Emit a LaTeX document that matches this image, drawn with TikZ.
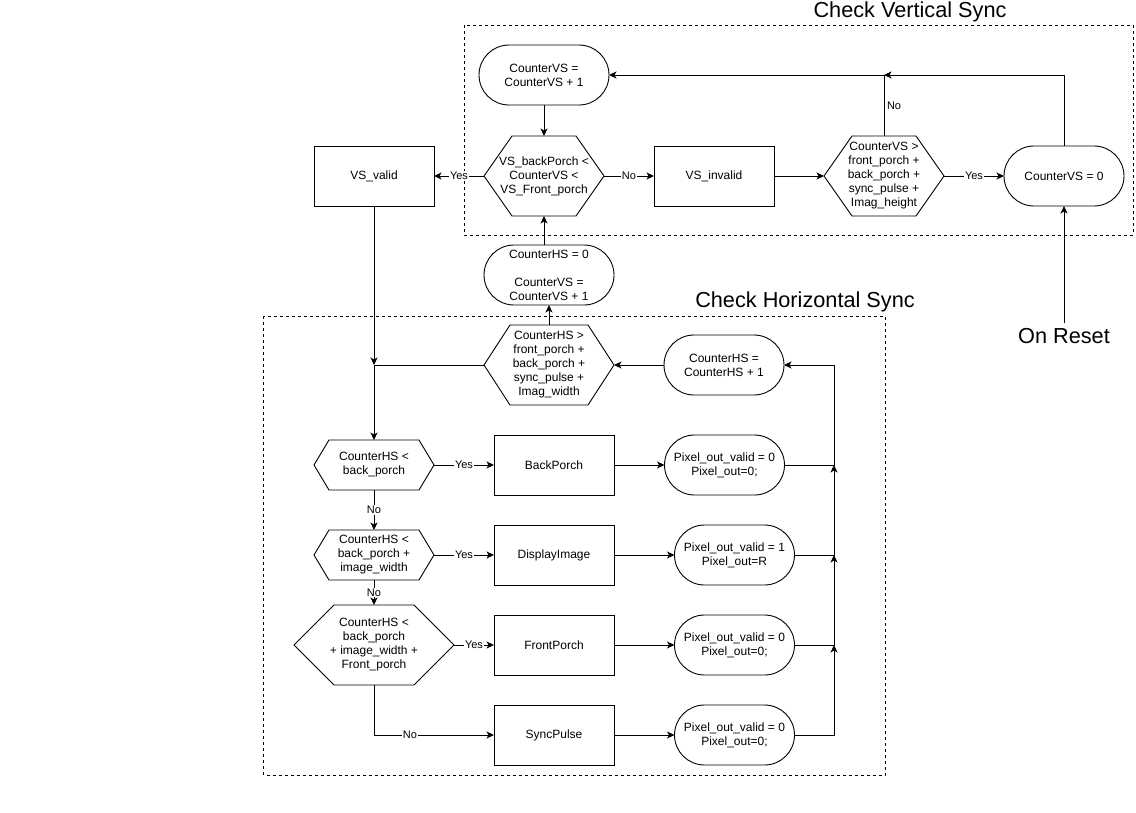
\documentclass[tikz,border=0pt]{standalone}
\usepackage{fontspec}
\setmainfont{Liberation Sans}
\usetikzlibrary{arrows.meta, positioning}
\tikzset{%
	every node/.style={
		font=\fontsize{12}{14}\selectfont,
		align=center,
		inner sep=0pt,
		outer sep=0pt
	},
	term/.style={
		draw,
		rounded corners=30pt,
		minimum width=120pt,
		minimum height=60pt
	},
	stepbox/.style={
		draw,
		minimum width=120pt,
		minimum height=60pt
	},
	cond/.style={
		minimum width=120pt,
		minimum height=80pt
	},
	group/.style={
		line width=0.8pt,
		dash pattern=on 3pt off 3pt
	},
	title/.style={
		font=\fontsize{21.7}{26}\selectfont,
		anchor=base
	},
	lbl/.style={
		font=\fontsize{11}{13}\selectfont,
		fill=white,
		inner sep=1pt
	},
	flow/.style={
		-{Stealth[length=7.5pt, width=7pt, inset=2pt]}
	},
}
% hexagon drawn round a named node: #1 node, #2 inset of the points
\newcommand{\hexa}[2]{%
	\draw ([xshift=#2]#1.north west) -- ([xshift=-#2]#1.north east) -- (#1.east)
		-- ([xshift=-#2]#1.south east) -- ([xshift=#2]#1.south west) -- (#1.west) -- cycle;}

\begin{document}
\begin{tikzpicture}[x=1pt, y=-1pt, line width=0.9pt]
	
	\path[fill=white] (0,0) rectangle (1136,812);
	
	% Vertical sync
	\draw[group] (464,25) rectangle (1133,235);
	\node[title] (vstitle) at (910,17.3) {Check Vertical Sync};
	
	\node[term, minimum width=130pt] (vsinc) at (544,75) {CounterVS =\\CounterVS + 1};
	\node[cond] (vscheck) at (544,176) {VS\_backPorch <\\CounterVS <\\VS\_Front\_porch};
	\hexa{vscheck}{28pt}
	\node[stepbox] (vsvalid) at (374,176) {VS\_valid};
	\node[stepbox] (vsinvalid) at (714,176) {VS\_invalid};
	\node[cond] (vsend) at (884,176) {CounterVS >\\front\_porch +\\back\_porch +\\sync\_pulse +\\Imag\_height};
	\hexa{vsend}{28pt}
	\node[term] (vsreset) at (1064,176) {CounterVS = 0};
	\node[title, inner ysep=5pt] (reset) at (1064,343) {On Reset};
	
	\draw[flow] (vsinc.south) -- (vscheck.north);
	\draw[flow] (vscheck.west) -- node[lbl] {Yes} (vsvalid.east);
	\draw[flow] (vscheck.east) -- node[lbl] {No} (vsinvalid.west);
	\draw[flow] (vsinvalid.east) -- (vsend.west);
	\draw[flow] (vsend.east) -- node[lbl] {Yes} (vsreset.west);
	\coordinate (vsjoin) at (vsend.north |- vsinc.east);
	\draw[flow] (vsreset.north) |- (vsjoin);
	\draw[flow] (vsend.north) -- node[lbl, fill=none, right, xshift=2pt] {No} (vsjoin) -- (vsinc.east);
	\draw[flow] (reset.north) -- (vsreset.south);
	
	% Horizontal sync
	\draw[group] (263.5,316) rectangle (885,775);
	\node[title] (hstitle) at (805,307.5) {Check Horizontal Sync};
	
	\node[term, minimum width=130pt] (hsreset) at (549,275) {CounterHS = 0\\[14pt]CounterVS =\\CounterVS + 1};
	\node[cond, minimum width=130pt] (hsend) at (549,365) {CounterHS >\\front\_porch +\\back\_porch +\\sync\_pulse +\\Imag\_width};
	\hexa{hsend}{26pt}
	\node[term] (hsinc) at (724,365) {CounterHS =\\CounterHS + 1};
	
	\node[cond, minimum height=50pt] (hscheckA) at (374,465) {CounterHS <\\back\_porch};
	\hexa{hscheckA}{15pt}
	\node[cond, minimum height=50pt] (hscheckB) at (374,555) {CounterHS <\\back\_porch +\\image\_width};
	\hexa{hscheckB}{15pt}
	\node[cond, minimum width=160pt] (hscheckC) at (374,645) {CounterHS <\\back\_porch\\+ image\_width +\\Front\_porch};
	\hexa{hscheckC}{40pt}
	
	\node[stepbox] (backporch) at (554,465) {BackPorch};
	\node[stepbox] (display) at (554,555) {DisplayImage};
	\node[stepbox] (frontporch) at (554,645) {FrontPorch};
	\node[stepbox] (syncpulse) at (554,735) {SyncPulse};
	
	\node[term] (pixA) at (724.5,465) {Pixel\_out\_valid = 0\\Pixel\_out=0;};
	\node[term] (pixB) at (734.5,555) {Pixel\_out\_valid = 1\\Pixel\_out=R};
	\node[term] (pixC) at (734.5,645) {Pixel\_out\_valid = 0\\Pixel\_out=0;};
	\node[term] (pixD) at (734.5,735) {Pixel\_out\_valid = 0\\Pixel\_out=0;};
	
	\draw[flow] (vscheck.south |- hsreset.north) -- (vscheck.south);
	\draw[flow] (hsend.north) -- (hsreset.south);
	\draw[flow] (hsinc.west) -- (hsend.east);
	\coordinate (hsjoin) at (vsvalid.south |- hsend.west);
	\draw[flow] (vsvalid.south) -- (hsjoin);
	\draw[flow] (hsend.west) -- (hsjoin) -- (hscheckA.north);
	
	\draw[flow] (hscheckA.east) -- node[lbl] {Yes} (backporch.west);
	\draw[flow] (hscheckA.south) -- node[lbl] {No} (hscheckB.north);
	\draw[flow] (hscheckB.east) -- node[lbl] {Yes} (display.west);
	\draw[flow] (hscheckB.south) -- node[lbl] {No} (hscheckC.north);
	\draw[flow] (hscheckC.east) -- node[lbl] {Yes} (frontporch.west);
	\draw[flow] (hscheckC.south) |- node[lbl, pos=0.65] {No} (syncpulse.west);
	
	\draw[flow] (backporch.east) -- (pixA.west);
	\draw[flow] (display.east) -- (pixB.west);
	\draw[flow] (frontporch.east) -- (pixC.west);
	\draw[flow] (syncpulse.east) -- (pixD.west);
	
	\coordinate (busA) at (834,465);
	\coordinate (busB) at (834,555);
	\coordinate (busC) at (834,645);
	\draw[flow] (pixA.east) -- (busA) |- (hsinc.east);
	\draw[flow] (pixB.east) -| (busA);
	\draw[flow] (pixC.east) -| (busB);
	\draw[flow] (pixD.east) -| (busC);
	
\end{tikzpicture}
\end{document}
